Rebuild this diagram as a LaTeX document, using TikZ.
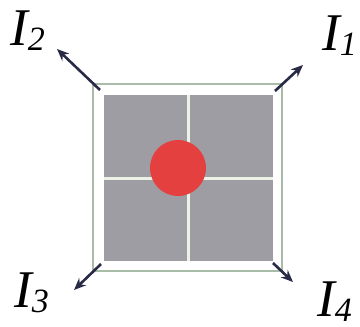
\documentclass[tikz,border=0pt]{standalone}
\usepackage{fontspec}
\setmainfont{Liberation Serif}
\usetikzlibrary{arrows.meta}
\definecolor{cellgray}{RGB}{158,157,163}
\definecolor{spotred}{RGB}{228,64,64}
\definecolor{framegreen}{RGB}{168,188,168}
\definecolor{divline}{RGB}{236,242,230}
\definecolor{arrowblue}{RGB}{40,42,70}
\tikzset{
  lab/.style={anchor=base west, inner sep=0pt, text=black,
    font=\fontsize{53}{53}\selectfont\itshape},
  outarrow/.style={draw=arrowblue, line width=2.6pt,
    -{Stealth[length=12pt,width=10pt]}},
}
\newcommand{\subdig}[1]{\raisebox{-5pt}{\fontsize{34}{34}\selectfont #1}}
\begin{document}
\begin{tikzpicture}[x=1pt,y=-1pt]
\useasboundingbox (0,0) rectangle (360,327);
% outer frame
\draw[framegreen, line width=1.2pt, fill=white] (93,84) rectangle (282,271);
% gray cells
\fill[cellgray] (104,95) rectangle (273,261);
% dividers
\draw[divline, line width=3pt] (188.5,95) -- (188.5,261);
\draw[divline, line width=3pt] (104,178) -- (273,178);
% red spot
\fill[spotred] (178,168) circle (28);
% corner coordinates
\coordinate (c1) at (275,91);
\coordinate (c2) at (100,90);
\coordinate (c3) at (101,264);
\coordinate (c4) at (273,263);
\coordinate (e1) at (303,65);
\coordinate (e2) at (57,49);
\coordinate (e3) at (74,290);
\coordinate (e4) at (293,282);
\draw[outarrow] (c1) -- (e1);
\draw[outarrow] (c2) -- (e2);
\draw[outarrow] (c3) -- (e3);
\draw[outarrow] (c4) -- (e4);
% labels
\node[lab] (l1) at (322,50) {I\subdig{1}};
\node[lab] (l2) at (10,45) {I\subdig{2}};
\node[lab] (l3) at (14,307) {I\subdig{3}};
\node[lab] (l4) at (317,316) {I\subdig{4}};
\end{tikzpicture}
\end{document}
